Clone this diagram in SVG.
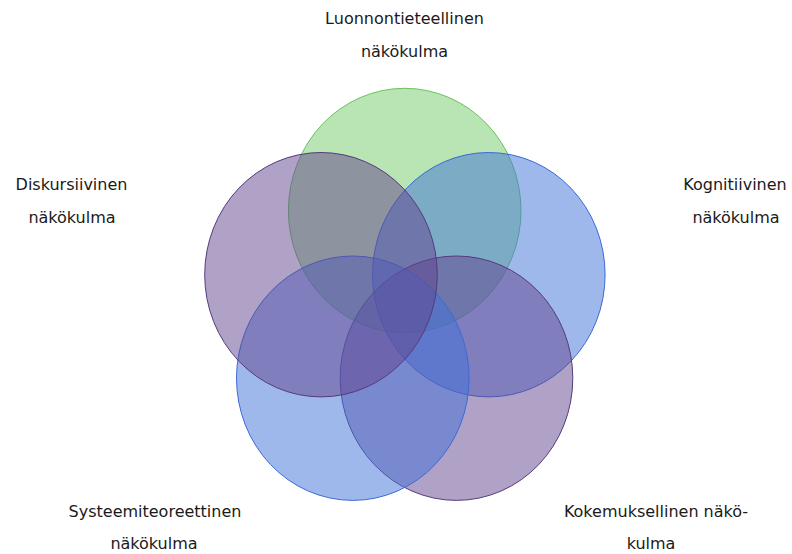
<svg xmlns="http://www.w3.org/2000/svg" width="792" height="554" viewBox="0 0 792 554">
<style>
text{font-family:"DejaVu Sans",Verdana,sans-serif;font-size:16px;fill:#1a1a1a;text-anchor:middle}
.g{fill:#73c967;fill-opacity:.5;stroke:#6cc25f;stroke-width:1}
.b{fill:#3f72d9;fill-opacity:.5;stroke:#3a6ad6;stroke-width:1}
.p{fill:#61438d;fill-opacity:.5;stroke:#553a7e;stroke-width:1}
</style>
<rect width="792" height="554" fill="#fff"/>
<g id="circles">
<g id="n-luonnontieteellinen"><ellipse class="g" cx="404.7" cy="210.5" rx="116.3" ry="122.2"/></g>
<g id="n-kognitiivinen"><ellipse class="b" cx="488.8" cy="274.7" rx="116.3" ry="122.2"/></g>
<g id="n-kokemuksellinen"><ellipse class="p" cx="456.5" cy="378.2" rx="116.3" ry="122.2"/></g>
<g id="n-systeemiteoreettinen"><ellipse class="b" cx="352.8" cy="378.2" rx="116.3" ry="122.2"/></g>
<g id="n-diskursiivinen"><ellipse class="p" cx="321" cy="274.7" rx="116.3" ry="122.2"/></g>
</g>
<g id="labels">
<g id="l-top"><text x="404.5" y="24">Luonnontieteellinen</text><text x="404.5" y="57">näkökulma</text></g>
<g id="l-left"><text x="71.5" y="190">Diskursiivinen</text><text x="72" y="222.5">näkökulma</text></g>
<g id="l-right"><text x="735" y="190">Kognitiivinen</text><text x="736" y="222.5">näkökulma</text></g>
<g id="l-bl"><text x="155" y="517">Systeemiteoreettinen</text><text x="154" y="549">näkökulma</text></g>
<g id="l-br"><text x="656" y="517">Kokemuksellinen näkö-</text><text x="651" y="549">kulma</text></g>
</g>
</svg>
